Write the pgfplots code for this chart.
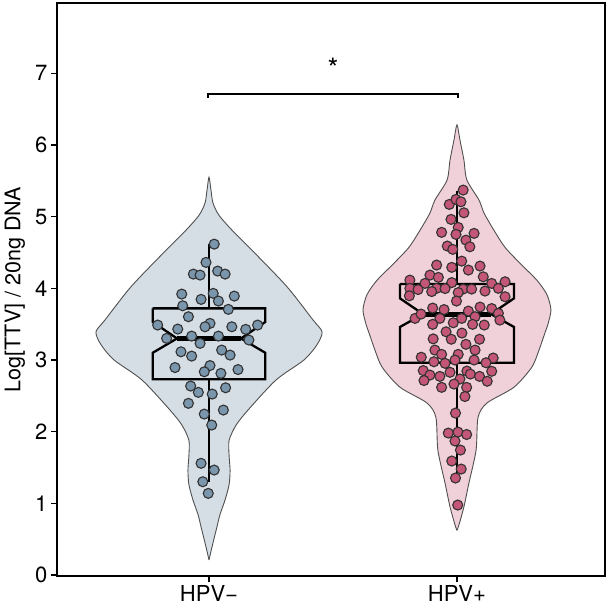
\documentclass[border=0pt]{standalone}
\usepackage{pgfplots}
\pgfplotsset{compat=1.18}
\usepackage{fontspec}
\setmainfont{TeX Gyre Heros}
\definecolor{vneg}{RGB}{214,222,229}
\definecolor{vpos}{RGB}{240,208,217}
\definecolor{pneg}{RGB}{122,150,172}
\definecolor{ppos}{RGB}{196,86,120}
\definecolor{edge}{RGB}{50,50,50}
\definecolor{vline}{RGB}{80,80,80}
\begin{document}
\begin{tikzpicture}
\begin{axis}[
  at={(0,0)}, anchor=south west,
  scale only axis, width=548pt, height=573pt,
  xmin=0.387, xmax=2.597, ymin=-0.014, ymax=7.98,
  xtick={1,2}, xticklabels={HPV−,HPV+},
  ytick={0,1,2,3,4,5,6,7},
  xtick pos=lower, ytick pos=left,
  tick align=outside, major tick length=6pt,
  tick style={line width=1.4pt, black},
  axis line style={line width=1.8pt, black},
  /pgf/number format/assume math mode=true,
  tick label style={font=\fontsize{22}{26}\selectfont},
  ylabel={Log[TTV] / 20ng DNA},
  every axis y label/.style={at={(axis description cs:0,0.5)}, xshift=-42pt, rotate=90, anchor=center, font=\fontsize{21.5}{25}\selectfont},
  clip=false,
]
% violin HPV-
\addplot[fill=vneg, draw=vline, line width=0.9pt, smooth, tension=0.45] coordinates {
(1,0.21) (0.988,0.39) (0.968,0.67) (0.956,0.84) (0.935,1.05) (0.919,1.26) (0.915,1.46) (0.919,1.67) (0.919,1.88) (0.891,2.09) (0.843,2.30) (0.730,2.72) (0.617,3.00) (0.565,3.21) (0.544,3.39) (0.581,3.56) (0.685,4.02) (0.815,4.49) (0.907,4.81) (0.960,5.02) (0.984,5.19) (0.992,5.37) (1,5.55)
(1.008,5.37) (1.016,5.19) (1.040,5.02) (1.093,4.81) (1.185,4.49) (1.315,4.02) (1.419,3.56) (1.456,3.39) (1.435,3.21) (1.383,3.00) (1.270,2.72) (1.157,2.30) (1.109,2.09) (1.081,1.88) (1.081,1.67) (1.085,1.46) (1.081,1.26) (1.065,1.05) (1.044,0.84) (1.032,0.67) (1.012,0.39) (1,0.21)
};
% violin HPV+
\addplot[fill=vpos, draw=vline, line width=0.9pt, smooth, tension=0.45] coordinates {
(2,0.62) (1.992,0.70) (1.972,0.95) (1.952,1.28) (1.923,1.74) (1.915,2.20) (1.879,2.40) (1.770,2.62) (1.698,2.90) (1.669,3.14) (1.645,3.38) (1.633,3.50) (1.621,3.70) (1.637,3.91) (1.677,4.11) (1.746,4.35) (1.806,4.57) (1.851,4.81) (1.891,5.05) (1.911,5.23) (1.960,5.51) (1.972,5.79) (1.988,6.07) (2,6.28)
(2.012,6.07) (2.028,5.79) (2.040,5.51) (2.089,5.23) (2.109,5.05) (2.149,4.81) (2.194,4.57) (2.254,4.35) (2.323,4.11) (2.363,3.91) (2.379,3.70) (2.367,3.50) (2.355,3.38) (2.331,3.14) (2.302,2.90) (2.230,2.62) (2.121,2.40) (2.085,2.20) (2.077,1.74) (2.048,1.28) (2.028,0.95) (2.008,0.70) (2,0.62)
};
% points HPV-
\addplot[only marks, mark=*, mark size=5pt, mark options={fill=pneg, draw=edge, line width=1.1pt}] coordinates {
(1.021,4.616) (0.988,4.361) (0.937,4.198) (0.964,4.184) (1.035,4.240) (1.065,4.198)
(0.890,3.919) (1.017,3.929) (1.102,3.891) (0.968,3.845) (1.038,3.822) (0.894,3.756)
(1.078,3.706) (0.917,3.603) (1.004,3.510) (0.984,3.463) (0.793,3.487) (0.874,3.431)
(1.092,3.463) (1.148,3.427) (1.196,3.487) (0.829,3.301) (0.930,3.333) (0.964,3.232)
(1.038,3.333) (1.161,3.278) (0.887,3.114) (0.930,3.054) (1.051,3.138) (1.085,3.068)
(0.863,2.894) (1.004,2.922) (1.117,2.866) (0.981,2.835) (1.048,2.813) (0.926,2.636)
(0.957,2.548) (1.013,2.524) (1.067,2.612) (0.917,2.395) (0.981,2.245) (1.058,2.301)
(1.011,2.092) (0.968,1.558) (1.021,1.464) (0.975,1.301) (0.997,1.139)
};
% points HPV+
\addplot[only marks, mark=*, mark size=5pt, mark options={fill=ppos, draw=edge, line width=1.1pt}] coordinates {
(2.025,5.370) (1.969,5.170) (1.996,5.240) (2.016,5.207) (2.028,5.053) (1.976,4.961)
(2.005,4.849) (1.938,4.780) (1.996,4.752) (2.069,4.766) (2.036,4.672) (1.961,4.589)
(1.983,4.543) (2.052,4.579) (2.019,4.379) (1.918,4.324) (1.979,4.292) (2.046,4.254)
(2.093,4.310) (1.891,4.184) (1.925,4.152) (2.106,4.160) (1.810,4.114) (1.871,4.068)
(1.979,4.079) (2.140,4.068) (2.194,4.091)
(1.810,3.999) (1.843,3.982) (1.918,3.999) (1.952,3.996) (2.025,3.989) (2.059,3.989)
(2.113,3.961) (2.167,3.999) (1.898,3.954) (2.005,3.940) (1.808,3.895) (2.194,3.882)
(1.998,3.822) (1.902,3.724) (1.948,3.703) (2.046,3.682) (2.093,3.738) (2.140,3.717)
(1.831,3.580) (1.855,3.640) (1.931,3.580) (1.985,3.519) (2.019,3.580) (2.073,3.603)
(2.063,3.497) (2.110,3.487) (2.167,3.650) (2.173,3.556) (1.902,3.497)
(1.956,3.393) (2.020,3.375) (1.904,3.294) (1.977,3.289) (2.091,3.289) (2.036,3.218)
(2.073,3.138) (1.911,3.138) (1.938,3.078) (2.005,3.078) (1.856,3.038) (2.146,3.027)
(1.907,2.975) (1.952,2.953) (1.992,2.999) (2.069,2.999) (2.117,2.961)
(1.864,2.852) (1.972,2.828) (2.040,2.845) (2.054,2.803) (2.140,2.842) (1.891,2.789)
(1.931,2.771) (2.012,2.734) (2.091,2.771) (1.867,2.713) (2.122,2.703)
(1.938,2.618) (1.988,2.664) (2.039,2.618) (2.032,2.490) (1.994,2.259)
(1.965,1.980) (2.004,1.994) (2.039,1.960) (1.992,1.869) (2.014,1.743) (1.979,1.590)
(2.017,1.478) (1.994,1.353) (2.003,0.976)
};
% boxplot HPV-
\addplot[draw=black, line width=2.3pt, line join=miter] coordinates {
(0.773,3.72) (1.227,3.72) (1.227,3.53) (1.129,3.30) (1.227,3.10) (1.227,2.73) (0.773,2.73) (0.773,3.10) (0.871,3.30) (0.773,3.53) (0.773,3.72)
};
\addplot[draw=black, line width=2.3pt] coordinates {(1,3.72) (1,4.62)};
\addplot[draw=black, line width=2.3pt] coordinates {(1,2.73) (1,1.30)};
\addplot[draw=black, line width=5pt] coordinates {(0.871,3.30) (1.129,3.30)};
% boxplot HPV+
\addplot[draw=black, line width=2.3pt, line join=miter] coordinates {
(1.770,4.06) (2.230,4.06) (2.230,3.86) (2.137,3.64) (2.230,3.46) (2.230,2.96) (1.770,2.96) (1.770,3.46) (1.863,3.64) (1.770,3.86) (1.770,4.06)
};
\addplot[draw=black, line width=2.3pt] coordinates {(2,4.06) (2,5.36)};
\addplot[draw=black, line width=2.3pt] coordinates {(2,2.96) (2,1.35)};
\addplot[draw=black, line width=5pt] coordinates {(1.863,3.64) (2.137,3.64)};
% significance
\addplot[draw=black, line width=2.3pt] coordinates {(0.996,6.66) (0.996,6.71) (2.004,6.71) (2.004,6.66)};
\node[font=\fontsize{28}{30}\selectfont] at (axis cs:1.5,7.07) {*};
\end{axis}
\pgfresetboundingbox
\path[use as bounding box] (-57pt,-32pt) rectangle (552pt,576pt);
\end{tikzpicture}
\end{document}
